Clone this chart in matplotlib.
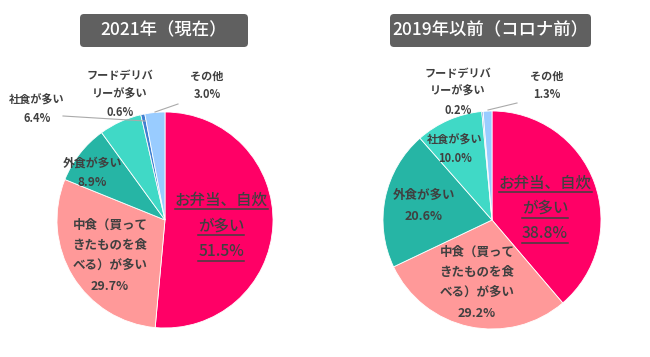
import matplotlib
matplotlib.use("Agg")
import matplotlib.pyplot as plt
from matplotlib.patches import FancyBboxPatch

plt.rcParams['font.family'] = ['Noto Sans CJK JP', 'DejaVu Sans']

# data (clockwise from 12 o'clock)
categories = ["お弁当、自炊が多い", "中食（買ってきたものを食べる）が多い", "外食が多い",
              "社食が多い", "フードデリバリーが多い", "その他"]
values_2021 = [51.5, 29.7, 8.9, 6.4, 0.6, 3.0]
values_2019 = [38.8, 29.2, 20.6, 10.0, 0.2, 1.3]
titles = ["2021年（現在）", "2019年以前（コロナ前）"]
colors = ["#FF0066", "#FF9999", "#26B5A5", "#40D9C6", "#3F7FD0", "#99CCFF"]

W, H = 650, 357
fig = plt.figure(figsize=(W / 100, H / 100), dpi=100)
ax = fig.add_axes([0, 0, 1, 1])

txt_col = "#404040"


def py(y):
    # pixel y (from top) -> axes y
    return H - y


def lines_at(x, y0, lines, step, size=8, weight="bold"):
    out = []
    for i, s in enumerate(lines):
        t = ax.text(x, py(y0 + i * step), s, ha="center", va="center",
                    fontsize=size, fontweight=weight, color=txt_col)
        out.append(t)
    return out


def pie(vals, cx, cy, r):
    ax.pie(vals, colors=colors, startangle=90, counterclock=False,
           center=(cx, py(cy)), radius=r,
           wedgeprops=dict(edgecolor="white", linewidth=0.6))


def title_box(x0, x1, s):
    box = FancyBboxPatch((x0, py(47)), x1 - x0, 33,
                         boxstyle="round,pad=0,rounding_size=4",
                         fc="#606060", ec="none")
    ax.add_patch(box)
    ax.text((x0 + x1) / 2, py(30.5), s, ha="center", va="center",
            fontsize=12.5, fontweight="medium", color="white")


pie(values_2021, 165, 220, 108)
pie(values_2019, 492, 220, 109)

ax.set_xlim(0, W)
ax.set_ylim(0, H)
ax.set_aspect("equal")
ax.axis("off")

# left pie labels
title_box(80, 248, titles[0])
main_l = lines_at(221, 200, ["お弁当、自炊", "が多い", f"{values_2021[0]}%"], 26,
                  size=11.2, weight="medium")
lines_at(110, 225, ["中食（買って", "きたものを食", "べる）が多い", f"{values_2021[1]}%"], 20.5, size=9)
lines_at(92, 163, ["外食が多い", f"{values_2021[2]}%"], 19, size=8.6)
lines_at(37, 100, ["社食が多い", f"{values_2021[3]}%"], 19)
lines_at(120, 76, ["フードデリバ", "リーが多い", f"{values_2021[4]}%"], 18.5)
lines_at(207, 76, ["その他", f"{values_2021[5]}%"], 19)
ax.plot([63, 145], [py(116), py(121)], color="#AAAAAA", lw=0.8)
ax.plot([178, 155], [py(104), py(112)], color="#AAAAAA", lw=0.8)

# right pie labels
title_box(390, 591, titles[1])
main_r = lines_at(545, 183, ["お弁当、自炊", "が多い", f"{values_2019[0]}%"], 25.5,
                  size=11.2, weight="medium")
lines_at(477, 252, ["中食（買って", "きたものを食", "べる）が多い", f"{values_2019[1]}%"], 20.5, size=9)
lines_at(424, 195, ["外食が多い", f"{values_2019[2]}%"], 21, size=9)
lines_at(455, 140, ["社食が多い", f"{values_2019[3]}%"], 18.5)
lines_at(458, 73, ["フードデリバ", "リーが多い", f"{values_2019[4]}%"], 18.5)
lines_at(547, 76, ["その他", f"{values_2019[5]}%"], 19)
ax.plot([517, 488], [py(103), py(110)], color="#AAAAAA", lw=0.8)

# underline the main labels
fig.canvas.draw()
r = fig.canvas.get_renderer()
inv = ax.transData.inverted()
for t in main_l + main_r:
    bb = t.get_window_extent(r)
    (x0, y0), (x1, _) = inv.transform([(bb.x0, bb.y0), (bb.x1, bb.y1)])
    ax.plot([x0, x1], [y0 - 0.5, y0 - 0.5], color=txt_col, lw=1.1)

fig.savefig("out.png", dpi=100)
